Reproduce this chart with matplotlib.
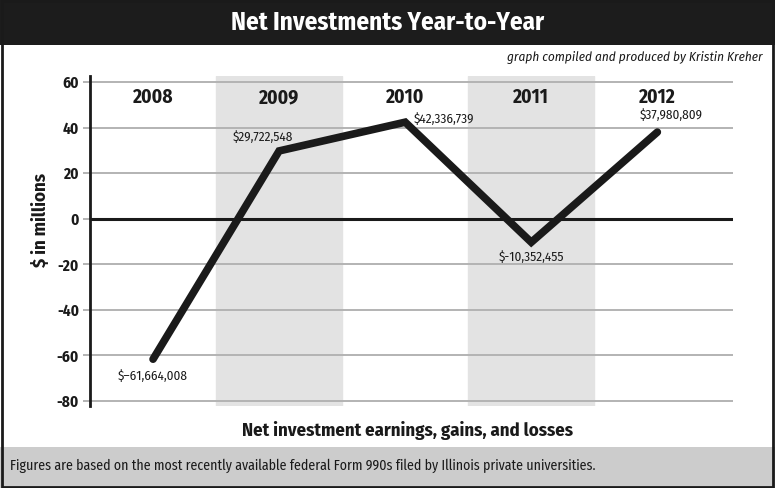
import matplotlib
matplotlib.use('Agg')
import matplotlib.pyplot as plt
from matplotlib.patches import Rectangle

# condensed face like the original (falls back to DejaVu if missing)
plt.rcParams['font.family'] = ['Fira Sans Condensed', 'Barlow Condensed', 'DejaVu Sans']

# data (in millions)
years = [2008, 2009, 2010, 2011, 2012]
values = [-61.664008, 29.722548, 42.336739, -10.352455, 37.980809]
value_labels = ['$\u201361,664,008', '$29,722,548', '$42,336,739', '$-10,352,455', '$37,980,809']
shaded_years = [2009, 2011]
yticks = [-80, -60, -40, -20, 0, 20, 40, 60]

# offsets of the value labels in points (dx, dy)
label_offsets = [(0, -12), (-12, 10), (6, 2), (0, -11), (10, 12)]

fig = plt.figure(figsize=(7.75, 4.88), dpi=100)

# title bar
fig.patches.append(Rectangle((0, 1 - 45 / 488), 1, 45 / 488, transform=fig.transFigure,
                             facecolor='#1c1c1c', edgecolor='none', zorder=0))
fig.text(0.5, 1 - 23 / 488, 'Net Investments Year-to-Year', color='white',
         fontsize=18, fontweight='bold', ha='center', va='center')
# footer band
fig.patches.append(Rectangle((0, 0), 1, 41 / 488, transform=fig.transFigure,
                             facecolor='#cccccc', edgecolor='none', zorder=0))
fig.text(10 / 775, 22 / 488,
         'Figures are based on the most recently available federal Form 990s filed by Illinois private universities.',
         fontsize=10, ha='left', va='center', color='#1a1a1a')
# outer border
fig.patches.append(Rectangle((0.002, 0.003), 0.996, 0.994, transform=fig.transFigure,
                             facecolor='none', edgecolor='#1a1a1a', linewidth=2, zorder=5))

fig.text(763 / 775, 1 - 57 / 488, 'graph compiled and produced by Kristin Kreher',
         fontsize=9.5, style='italic', ha='right', va='center', color='#1a1a1a')

ax = fig.add_axes([90 / 775, 1 - 406 / 488, (733 - 90) / 775, 330 / 488])
ax.set_xlim(2007.5, 2012.6)
ax.set_ylim(-82.2, 62.6)

for yr in shaded_years:
    ax.axvspan(yr - 0.5, yr + 0.5, color='#e3e3e3', zorder=0)

for t in yticks:
    if t != 0:
        ax.axhline(t, color='#b3b3b3', linewidth=1.4, zorder=1)
ax.axhline(0, color='#1a1a1a', linewidth=2.2, zorder=2)

ax.plot(years, values, color='#1a1a1a', linewidth=5.5, solid_capstyle='round',
        solid_joinstyle='miter', zorder=3)

for x, y, lab, (dx, dy) in zip(years, values, value_labels, label_offsets):
    ha = 'left' if dx > 4 and dx < 8 else 'center'
    ax.annotate(lab, (x, y), xytext=(dx, dy), textcoords='offset points',
                ha=ha, va='center', fontsize=9.5, color='#1a1a1a', zorder=4)

for yr in years:
    ax.text(yr, 0.935, str(yr), transform=ax.get_xaxis_transform(), ha='center', va='center',
            fontsize=14, fontweight='bold', color='#1a1a1a')

ax.set_yticks(yticks)
ax.set_yticklabels([str(t) for t in yticks], fontweight='bold', fontsize=11)
ax.tick_params(axis='y', length=5, width=1.4, color='#b3b3b3', pad=3, labelcolor='#1a1a1a')
ax.set_xticks([])
for s in ['top', 'right', 'bottom']:
    ax.spines[s].set_visible(False)
ax.spines['left'].set_linewidth(2)
ax.spines['left'].set_color('#1a1a1a')
ax.patch.set_alpha(0)

fig.text(41 / 775, 1 - 220 / 488, '$ in millions', rotation=90, fontsize=13.5,
         fontweight='bold', ha='center', va='center', color='#1a1a1a')
fig.text(408 / 775, 1 - 430 / 488, 'Net investment earnings, gains, and losses',
         fontsize=13.5, fontweight='bold', ha='center', va='center', color='#1a1a1a')

fig.savefig('out.png', dpi=100)
